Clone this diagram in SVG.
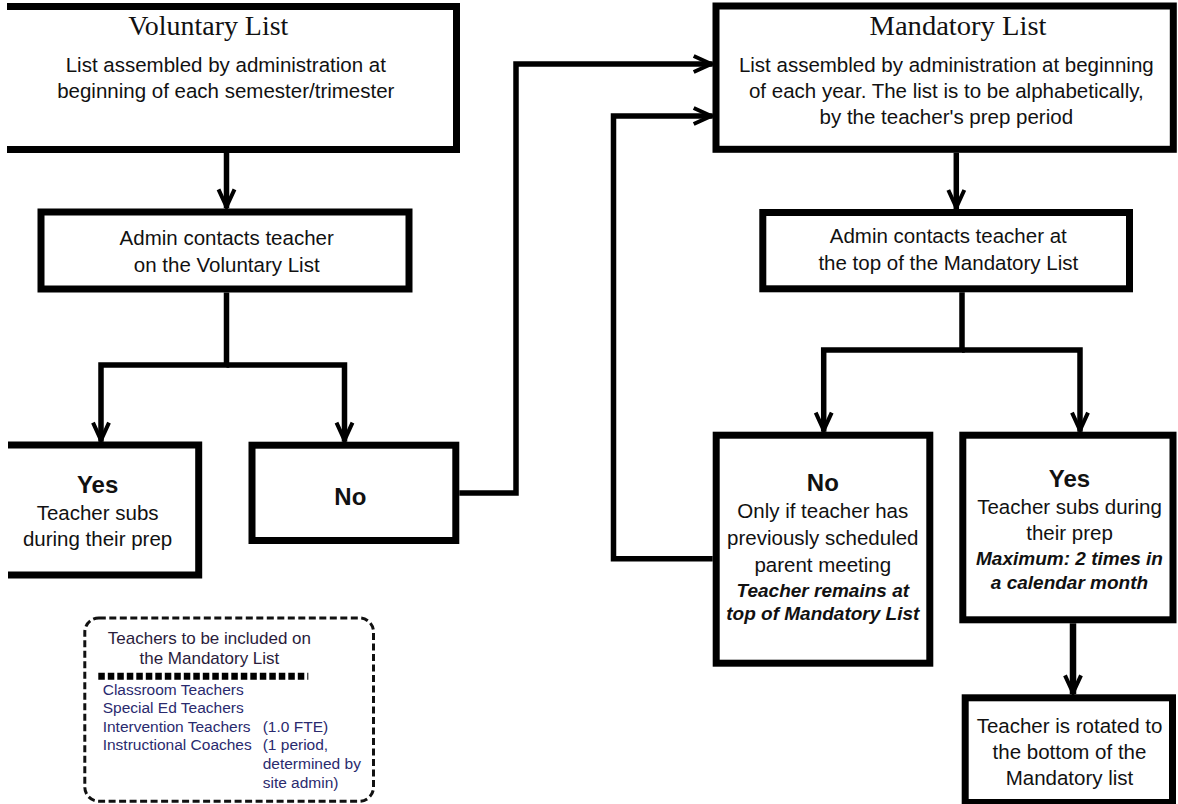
<svg xmlns="http://www.w3.org/2000/svg" width="1178" height="804" viewBox="0 0 1178 804">
<style>
.box{fill:#fff;stroke:#000;stroke-width:7}
.conn{fill:none;stroke:#000;stroke-width:5.5}
.t{font-family:"Liberation Sans",Arial,sans-serif;font-size:20.5px;text-anchor:middle;fill:#111}
.title{font-family:"Liberation Serif","Times New Roman",serif;font-size:28px;text-anchor:middle;fill:#111}
.b{font-weight:bold;font-size:24px}
.bi{font-weight:bold;font-style:italic;font-size:19px}
.lh{font-family:"Liberation Sans",Arial,sans-serif;font-size:17px;text-anchor:middle;fill:#2a1c3c}
.li{font-family:"Liberation Sans",Arial,sans-serif;font-size:15.5px;fill:#2a2a6e}
</style>
<defs>
<marker id="arr" markerUnits="userSpaceOnUse" markerWidth="26" markerHeight="26" viewBox="-24 -13 26 26" refX="0" refY="0" orient="auto" overflow="visible">
<path d="M-19,-8 L-1.5,0 L-19,8" fill="none" stroke="#000" stroke-width="4"/>
</marker>
</defs>
<rect width="1178" height="804" fill="#fff"/>

<g id="connectors">
<path class="conn" d="M226.5,153 V208.3" marker-end="url(#arr)"/>
<path class="conn" d="M226.5,292.5 V365 H101 V441.7" marker-end="url(#arr)"/>
<path class="conn" d="M226.5,365 H344.5 V441.7" marker-end="url(#arr)"/>
<path class="conn" d="M459.3,493 H516 V64 H712.7" marker-end="url(#arr)"/>
<path class="conn" d="M956.3,152.7 V209" marker-end="url(#arr)"/>
<path class="conn" d="M962,292.3 V350 H823.7 V431.7" marker-end="url(#arr)"/>
<path class="conn" d="M962,350 H1080 V431.7" marker-end="url(#arr)"/>
<path class="conn" d="M712.7,558.8 H613.5 V116 H712.7" marker-end="url(#arr)"/>
<path class="conn" style="stroke-width:6.5" d="M1073,623.3 V694.3" marker-end="url(#arr)"/>
</g>

<g id="voluntary-list">
<path class="box" d="M7,6.5 H456.5 V149.5 H7"/>
<text class="title" x="208.3" y="35" textLength="160" lengthAdjust="spacingAndGlyphs">Voluntary List</text>
<text class="t" x="225.8" y="71.7">List assembled by administration at</text>
<text class="t" x="225.8" y="98.3">beginning of each semester/trimester</text>
</g>

<g id="admin-voluntary">
<rect class="box" x="41" y="212" width="368" height="77"/>
<text class="t" x="226.7" y="245">Admin contacts teacher</text>
<text class="t" x="226.7" y="271.7">on the Voluntary List</text>
</g>

<g id="yes-voluntary">
<path class="box" d="M8,445 H198.7 V575 H8"/>
<text class="t b" x="97.6" y="493">Yes</text>
<text class="t" x="97.6" y="520">Teacher subs</text>
<text class="t" x="97.6" y="546.4">during their prep</text>
</g>

<g id="no-voluntary">
<rect class="box" x="252" y="445.2" width="203.8" height="95.3"/>
<text class="t b" x="350.3" y="505">No</text>
</g>

<g id="mandatory-list">
<rect class="box" x="716" y="6" width="457.3" height="143.3"/>
<text class="title" x="958" y="35" textLength="177" lengthAdjust="spacingAndGlyphs">Mandatory List</text>
<text class="t" x="946.3" y="71.7">List assembled by administration at beginning</text>
<text class="t" x="946.3" y="98.3">of each year. The list is to be alphabetically,</text>
<text class="t" x="946.3" y="124">by the teacher's prep period</text>
</g>

<g id="admin-mandatory">
<rect class="box" x="762.8" y="212.5" width="366.7" height="76.3"/>
<text class="t" x="948.3" y="243.3">Admin contacts teacher at</text>
<text class="t" x="948.3" y="270">the top of the Mandatory List</text>
</g>

<g id="no-mandatory">
<rect class="box" x="716.2" y="435.2" width="213.6" height="228"/>
<text class="t b" x="822.8" y="490.7">No</text>
<text class="t" x="822.8" y="517.5">Only if teacher has</text>
<text class="t" x="822.8" y="544.5">previously scheduled</text>
<text class="t" x="822.8" y="571.5">parent meeting</text>
<text class="t bi" x="822.8" y="597">Teacher remains at</text>
<text class="t bi" x="822.8" y="620">top of Mandatory List</text>
</g>

<g id="yes-mandatory">
<rect class="box" x="962.8" y="435.2" width="210.2" height="184.6"/>
<text class="t b" x="1069.5" y="486.5">Yes</text>
<text class="t" x="1069.5" y="514">Teacher subs during</text>
<text class="t" x="1069.5" y="540">their prep</text>
<text class="t bi" x="1069.5" y="565">Maximum: 2 times in</text>
<text class="t bi" x="1069.5" y="589">a calendar month</text>
</g>

<g id="rotated">
<rect class="box" x="965.2" y="697.8" width="207.3" height="104.7"/>
<text class="t" x="1069.5" y="732.7">Teacher is rotated to</text>
<text class="t" x="1069.5" y="759.3">the bottom of the</text>
<text class="t" x="1069.5" y="785">Mandatory list</text>
</g>

<g id="legend">
<rect x="84.8" y="618" width="288.7" height="183.2" rx="14" fill="none" stroke="#111" stroke-width="3" stroke-dasharray="7 3.5"/>
<text class="lh" x="209.4" y="644.3">Teachers to be included on</text>
<text class="lh" x="209.4" y="664.3">the Mandatory List</text>
<path d="M98.3,676.3 H308.3" stroke="#000" stroke-width="7" stroke-dasharray="6.5 3"/>
<text class="li" x="102.7" y="695">Classroom Teachers</text>
<text class="li" x="102.7" y="713.3">Special Ed Teachers</text>
<text class="li" x="102.7" y="731.7">Intervention Teachers</text>
<text class="li" x="102.7" y="750">Instructional Coaches</text>
<text class="li" x="262.7" y="731.7">(1.0 FTE)</text>
<text class="li" x="262.7" y="750">(1 period,</text>
<text class="li" x="262.7" y="769.3">determined by</text>
<text class="li" x="262.7" y="788.3">site admin)</text>
</g>
</svg>
